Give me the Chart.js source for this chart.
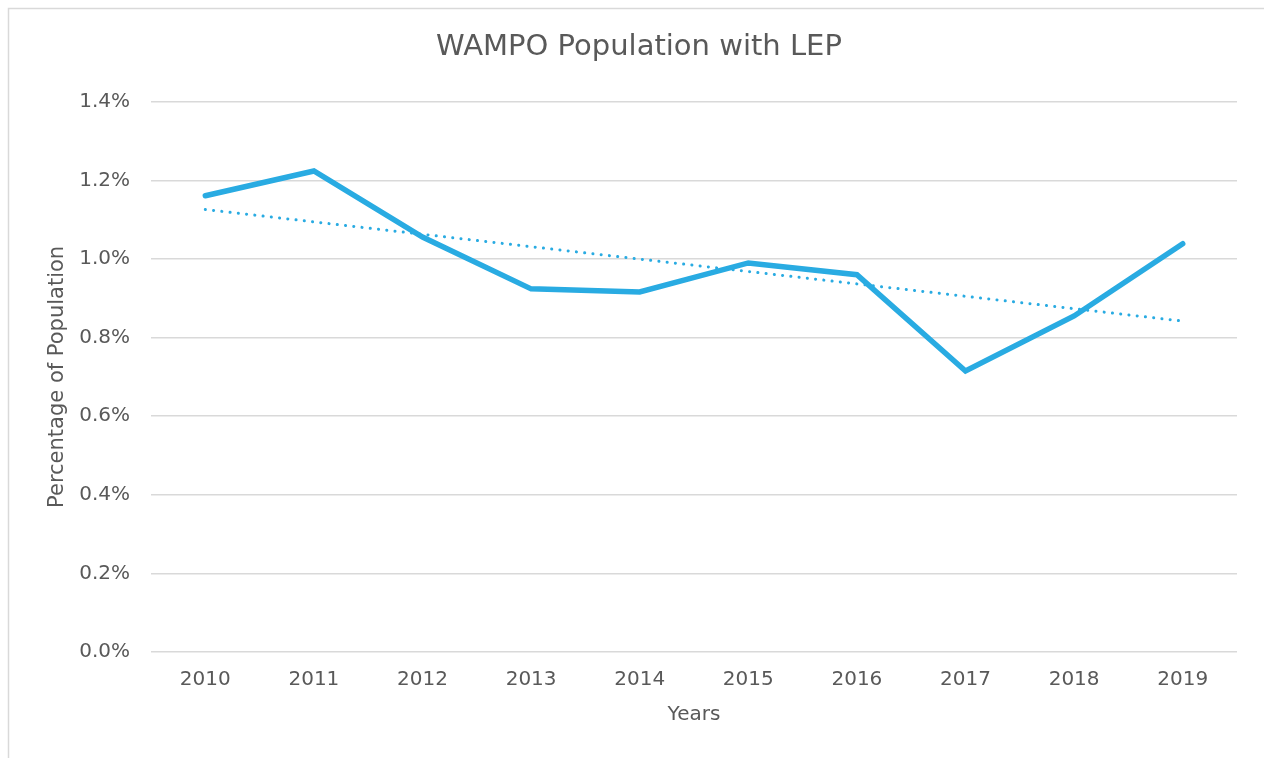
<!DOCTYPE html>
<html>
<head>
<meta charset="utf-8">
<title>WAMPO Population with LEP</title>
<script src="https://cdn.jsdelivr.net/npm/chart.js@4.4.1/dist/chart.umd.min.js"></script>
<style>
    html, body { margin: 0; padding: 0; background: #ffffff; }
    #wrap { position: relative; width: 1264px; height: 758px; }
</style>
</head>
<body>
<div id="wrap"><canvas id="lepChart" width="1264" height="758"></canvas></div>
<script>
// chart data
var years = ['2010', '2011', '2012', '2013', '2014', '2015', '2016', '2017', '2018', '2019'];
var lepPercent = [1.161, 1.224, 1.056, 0.924, 0.916, 0.990, 0.960, 0.715, 0.855, 1.039];
var trendPercent = [1.126, null, null, null, null, null, null, null, null, 0.842];
var yMin = 0;
var yMax = 1.4;
var yStep = 0.2;

var textColor = '#595959';
var gridColor = '#d9d9d9';
var lineColor = '#29abe2';
var fontFamily = "'DejaVu Sans', 'Open Sans', sans-serif";

Chart.defaults.font.family = fontFamily;
Chart.defaults.color = textColor;

// light frame round the chart, like the office chart border
var framePlugin = {
    id: 'frame',
    beforeDraw: function (chart) {
        var ctx = chart.ctx;
        ctx.save();
        ctx.fillStyle = '#ffffff';
        ctx.fillRect(0, 0, chart.width, chart.height);
        ctx.strokeStyle = gridColor;
        ctx.lineWidth = 1.5;
        ctx.beginPath();
        ctx.moveTo(8.5, chart.height);
        ctx.lineTo(8.5, 8.5);
        ctx.lineTo(chart.width, 8.5);
        ctx.stroke();
        ctx.restore();
    }
};

var ctx = document.getElementById('lepChart').getContext('2d');
var lepChart = new Chart(ctx, {
    type: 'line',
    data: {
        labels: years,
        datasets: [
            {
                label: 'Population with LEP',
                data: lepPercent,
                borderColor: lineColor,
                backgroundColor: lineColor,
                borderWidth: 5.5,
                borderCapStyle: 'round',
                borderJoinStyle: 'miter',
                pointRadius: 0,
                tension: 0
            },
            {
                label: 'Linear trend',
                data: trendPercent,
                spanGaps: true,
                borderColor: lineColor,
                borderWidth: 3,
                borderDash: [0.1, 8.2],
                borderCapStyle: 'round',
                pointRadius: 0,
                tension: 0
            }
        ]
    },
    options: {
        responsive: false,
        animation: false,
        layout: {
            padding: { top: 0, right: 27, bottom: 20, left: 41 }
        },
        plugins: {
            legend: { display: false },
            tooltip: { enabled: false },
            title: {
                display: true,
                text: 'WAMPO Population with LEP',
                color: textColor,
                font: { size: 29, weight: 'normal' },
                padding: { top: 30, bottom: 37 }
            }
        },
        scales: {
            x: {
                offset: true,
                afterFit: function (scale) {
                    scale.height = 86;
                },
                grid: { display: false, drawTicks: false },
                border: { display: false },
                ticks: {
                    padding: 16,
                    color: textColor,
                    font: { size: 20 }
                },
                title: {
                    display: true,
                    text: 'Years',
                    color: textColor,
                    font: { size: 20 },
                    padding: { top: 11, bottom: 11 }
                }
            },
            y: {
                min: yMin,
                max: yMax,
                afterFit: function (scale) {
                    scale.width = 110;
                },
                grid: {
                    color: gridColor,
                    lineWidth: 1.5,
                    drawTicks: false
                },
                border: { display: false },
                ticks: {
                    stepSize: yStep,
                    padding: 21,
                    color: textColor,
                    font: { size: 20 },
                    callback: function (value) {
                        return value.toFixed(1) + '%';
                    }
                },
                title: {
                    display: true,
                    text: 'Percentage of Population',
                    color: textColor,
                    font: { size: 21 },
                    padding: { top: 4, bottom: 4 }
                }
            }
        }
    },
    plugins: [framePlugin]
});
</script>
</body>
</html>
